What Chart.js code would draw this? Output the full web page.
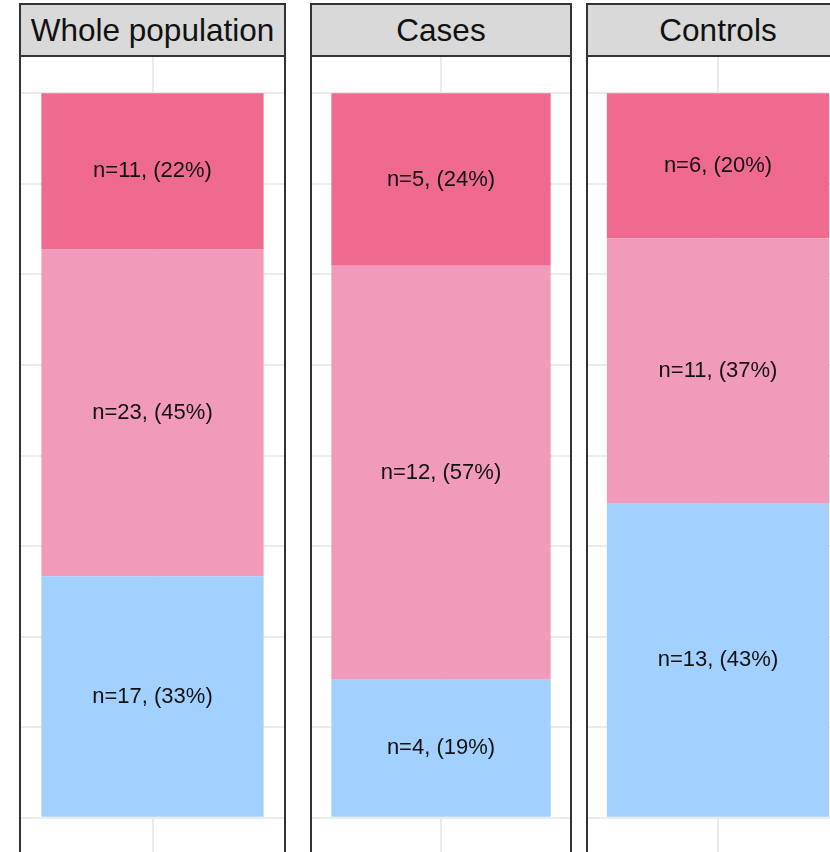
<!DOCTYPE html>
<html>
<head>
<meta charset="utf-8">
<script src="https://cdn.jsdelivr.net/npm/chart.js@4.4.0/dist/chart.umd.min.js"></script>
<style>
  html, body { margin: 0; padding: 0; background: #fff; }
  #wrap { position: relative; width: 830px; height: 852px; overflow: hidden; }
  .panel { position: absolute; top: 3px; height: 860px; border: 2px solid #333; box-sizing: border-box; background: #fff; }
  .strip { height: 52px; background: #d9d9d9; border-bottom: 2px solid #333; box-sizing: border-box;
           font-family: "Liberation Sans", Arial, sans-serif; font-size: 31.5px; color: #111;
           text-align: center; line-height: 50px; white-space: nowrap; }
  .body { position: relative; height: 797px; }
</style>
</head>
<body>
<div id="wrap"></div>
<script>
const panelTitles = ['Whole population', 'Cases', 'Controls'];
const groupNames = ['top', 'middle', 'bottom'];
const counts = {
  'Whole population': [11, 23, 17],
  'Cases': [5, 12, 4],
  'Controls': [6, 11, 13]
};
const percents = {
  'Whole population': [22, 45, 33],
  'Cases': [24, 57, 19],
  'Controls': [20, 37, 43]
};
const colors = ['#f06a8f', '#f29aba', '#a3d1ff'];
const panelLeft = [19, 310, 586];
const panelWidth = [267, 262, 264];
const barPct = [0.845, 0.85, 0.855];

const labelPlugin = {
  id: 'segLabels',
  afterDatasetsDraw(chart) {
    const c = chart.ctx;
    c.save();
    c.font = '22px "Liberation Sans", Arial, sans-serif';
    c.fillStyle = '#111';
    c.textAlign = 'center';
    c.textBaseline = 'middle';
    chart.data.datasets.forEach((ds, i) => {
      const el = chart.getDatasetMeta(i).data[0];
      const mid = (el.y + el.base) / 2;
      c.fillText(ds.labelText, el.x, mid);
    });
    c.restore();
  }
};

const wrap = document.getElementById('wrap');
panelTitles.forEach((title, p) => {
  const panel = document.createElement('div');
  panel.className = 'panel';
  panel.style.left = panelLeft[p] + 'px';
  panel.style.width = panelWidth[p] + 'px';
  panel.innerHTML = '<div class="strip">' + title + '</div><div class="body"><canvas></canvas></div>';
  wrap.appendChild(panel);

  const n = counts[title];
  const total = n.reduce((a, b) => a + b, 0);
  const datasets = groupNames.map((g, i) => ({
    label: g,
    data: [n[i] / total],
    backgroundColor: colors[i],
    borderWidth: 0,
    labelText: 'n=' + n[i] + ', (' + percents[title][i] + '%)'
  }));
  // first dataset sits at the base, so put the bottom group first
  datasets.reverse();

  new Chart(panel.querySelector('canvas'), {
    type: 'bar',
    data: { labels: [title], datasets: datasets },
    options: {
      responsive: true,
      maintainAspectRatio: false,
      animation: false,
      layout: { padding: 0 },
      plugins: { legend: { display: false }, tooltip: { enabled: false } },
      datasets: { bar: { categoryPercentage: 1, barPercentage: barPct[p] } },
      scales: {
        x: {
          stacked: true,
          ticks: { display: false },
          border: { display: false },
          grid: { offset: false, color: '#ebebeb', lineWidth: 2, drawTicks: false }
        },
        y: {
          stacked: true,
          min: -0.05, max: 1.05,
          afterBuildTicks: axis => {
            axis.ticks = [0, 0.125, 0.25, 0.375, 0.5, 0.625, 0.75, 0.875, 1].map(v => ({ value: v }));
          },
          ticks: { display: false },
          border: { display: false },
          grid: { color: '#ebebeb', lineWidth: 2, drawTicks: false }
        }
      }
    },
    plugins: [labelPlugin]
  });
});
</script>
</body>
</html>
